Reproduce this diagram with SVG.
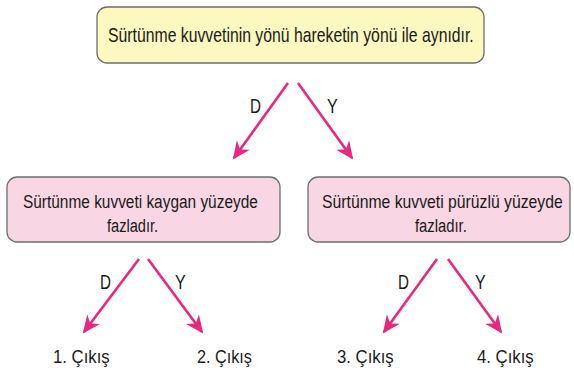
<svg xmlns="http://www.w3.org/2000/svg" width="574" height="371" viewBox="0 0 574 371">
<style>
.t{font-family:"Liberation Sans",Arial,sans-serif;fill:#1a1a1a}
.c{stroke:#e8287c;stroke-width:2.6;fill:none;marker-end:url(#ah)}
.yb{fill:#fbf8c0;stroke:#6e6e6e;stroke-width:1.3}
.pb{fill:#f9d6e4;stroke:#6e6e6e;stroke-width:1.3}
</style>
<defs>
<marker id="ah" markerUnits="userSpaceOnUse" markerWidth="30" markerHeight="30" viewBox="-20 -10 30 20" refX="0" refY="0" orient="auto">
<path d="M2,0 L-16,-8 L-10.5,0 L-16,8 Z" fill="#e8287c"/>
</marker>
</defs>
<rect width="574" height="371" fill="#ffffff"/>
<g id="n-top">
<rect class="yb" x="97" y="7" width="387" height="56" rx="10"/>
<text class="t" transform="translate(108,42) scale(0.752,1)" font-size="21">Sürtünme kuvvetinin yönü hareketin yönü ile aynıdır.</text>
</g>
<g id="n-left">
<rect class="pb" x="7" y="177" width="273" height="65" rx="10"/>
<text class="t" transform="translate(23,208) scale(0.812,1)" font-size="19">Sürtünme kuvveti kaygan yüzeyde</text>
<text class="t" transform="translate(107,232) scale(0.77,1)" font-size="19">fazladır.</text>
</g>
<g id="n-right">
<rect class="pb" x="308" y="177" width="262" height="65" rx="10"/>
<text class="t" transform="translate(322,208) scale(0.83,1)" font-size="19">Sürtünme kuvveti pürüzlü yüzeyde</text>
<text class="t" transform="translate(415,232) scale(0.78,1)" font-size="19">fazladır.</text>
</g>
<g id="n-out1"><text class="t" transform="translate(53,363) scale(0.93,1)" font-size="18">1. Çıkış</text></g>
<g id="n-out2"><text class="t" transform="translate(197,363) scale(0.9,1)" font-size="18">2. Çıkış</text></g>
<g id="n-out3"><text class="t" transform="translate(337,363) scale(0.93,1)" font-size="18">3. Çıkış</text></g>
<g id="n-out4"><text class="t" transform="translate(477,363) scale(0.93,1)" font-size="18">4. Çıkış</text></g>
<g id="connectors">
<line class="c" x1="288" y1="83" x2="234" y2="158"/>
<line class="c" x1="298" y1="83" x2="352" y2="158"/>
<line class="c" x1="139" y1="259" x2="84" y2="332"/>
<line class="c" x1="148" y1="259" x2="202" y2="332"/>
<line class="c" x1="437" y1="259" x2="384" y2="332"/>
<line class="c" x1="448" y1="259" x2="501" y2="332"/>
<text class="t" transform="translate(250,113) scale(0.76,1)" font-size="20">D</text>
<text class="t" transform="translate(327,113) scale(0.8,1)" font-size="20">Y</text>
<text class="t" transform="translate(100,289) scale(0.76,1)" font-size="20">D</text>
<text class="t" transform="translate(175,289) scale(0.8,1)" font-size="20">Y</text>
<text class="t" transform="translate(398,289) scale(0.76,1)" font-size="20">D</text>
<text class="t" transform="translate(475,289) scale(0.8,1)" font-size="20">Y</text>
</g>
</svg>
